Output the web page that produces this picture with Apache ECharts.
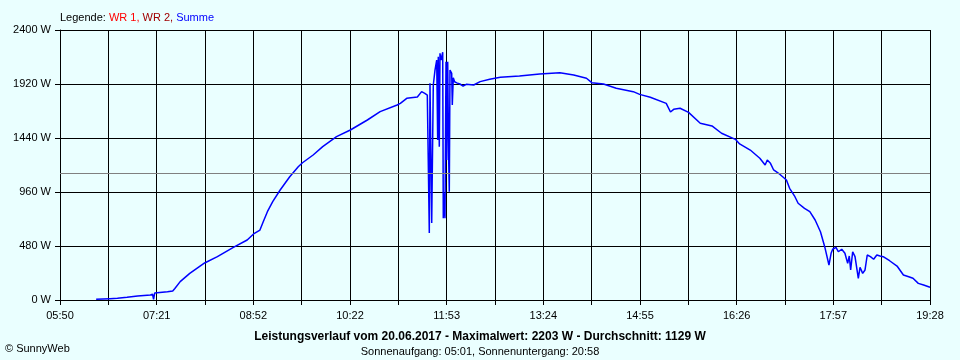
<!DOCTYPE html>
<html>
<head>
<meta charset="utf-8">
<script src="https://cdn.jsdelivr.net/npm/echarts@6/dist/echarts.min.js"></script>
<style>
html,body{margin:0;padding:0;background:#EAFFFF;}
#c{width:960px;height:360px;}
</style>
</head>
<body>
<div id="c"></div>
<script>
// Time labels on the x axis (every second grid line)
const tickLabels = ['05:50','07:21','08:52','10:22','11:53','13:24','14:55','16:26','17:57','19:28'];
const yTicks = [0, 480, 960, 1440, 1920, 2400];
const average = 1129;

// Summe (W) over time of day
const times = [
 '06:24','06:37','06:44','06:53','07:03','07:15','07:17','07:18','07:19','07:31','07:36','07:38','07:43','07:52',
 '08:06','08:18','08:33','08:46','08:52','08:58','09:01','09:05','09:10','09:17','09:26','09:34','09:38','09:48',
 '09:57','10:10','10:23','10:39','10:51','11:07','11:10','11:16','11:26','11:30','11:33',
 '11:35:21','11:37:14','11:37:53','11:39:29','11:40:59','11:42:35','11:44:11','11:45:07','11:45:41','11:46:38',
 '11:47:17','11:48:14','11:49:50','11:50:23','11:51:20','11:51:59','11:52:56','11:53:35','11:54:32','11:55:28',
 '11:56:02','11:56:41','11:58:17','11:58:51','11:59:47','12:01','12:03','12:06','12:09','12:12','12:19','12:25',
 '12:34','12:44','13:02','13:21','13:40','13:53','14:05','14:10','14:21','14:33','14:49','14:55','15:05','15:20',
 '15:24','15:27','15:33','15:41','15:52','16:03','16:12','16:25','16:29','16:39','16:48','16:53','16:55','16:58',
 '17:01','17:07','17:13','17:16','17:21','17:24','17:30','17:35','17:40','17:45','17:49','17:53','17:55','17:56:30',
 '17:59:36','18:01:48','18:05','18:08','18:10:36','18:12:06','18:13:24','18:15:18','18:17:30','18:20:36','18:22:12',
 '18:24:42','18:26:54','18:29','18:32','18:35','18:38','18:41','18:44','18:50','18:57','19:03','19:08','19:12',
 '19:17','19:22','19:28'
];
const summe = [
 6,12,15,24,36,44,51,6,62,74,80,102,163,237,
 329,385,468,533,587,622,693,785,874,978,1096,1185,1220,1289,
 1363,1452,1511,1600,1674,1733,1748,1793,1804,1852,1837,
 1822,596,1926,684,1911,2044,2133,1422,2163,1363,
 2193,2133,2203,726,948,726,2118,1244,2118,1244,
 963,2044,2015,1733,1975,1940,1930,1920,1902,1917,1911,1941,
 1962,1980,1991,2009,2020,2000,1971,1932,1920,1882,1852,1828,1802,1748,
 1671,1695,1704,1668,1571,1547,1482,1428,1387,1333,1260,1200,1244,1215,
 1156,1116,1067,993,918,860,815,785,711,607,474,311,415,451,
 468,429,451,415,326,391,267,429,385,193,291,
 237,267,400,385,362,400,391,385,349,302,222,207,193,
 148,133,113
];

function toMin(s){const p=s.split(':').map(Number);return p[0]*60+p[1]+(p[2]||0)/60;}
const startMin = toMin(tickLabels[0]);
const endMin = toMin(tickLabels[tickLabels.length-1]);
const steps = (tickLabels.length-1)*2;
const stepLen = (endMin-startMin)/steps;
const data = times.map((t,i)=>[(toMin(t)-startMin)/stepLen, summe[i]]);

const font = '"Liberation Sans", Arial, sans-serif';
const chart = echarts.init(document.getElementById('c'));
chart.setOption({
  backgroundColor:'#EAFFFF',
  animation:false,
  title:[
    {text:'{a|Legende: }{r|WR 1, }{d|WR 2, }{b|Summe}', left:60, top:12, padding:0,
     textStyle:{fontFamily:font, fontSize:11, fontWeight:'normal',
       rich:{a:{color:'#000000',fontFamily:font,fontSize:11},r:{color:'#FF0000',fontFamily:font,fontSize:11},
             d:{color:'#A00000',fontFamily:font,fontSize:11},b:{color:'#0000FF',fontFamily:font,fontSize:11}}}},
    {text:'Leistungsverlauf vom 20.06.2017 - Maximalwert: 2203 W - Durchschnitt: 1129 W', left:'center', top:331, padding:0,
     textStyle:{fontFamily:font, fontSize:12, fontWeight:'bold', color:'#000'}},
    {text:'Sonnenaufgang: 05:01, Sonnenuntergang: 20:58', left:'center', top:346, padding:0,
     textStyle:{fontFamily:font, fontSize:11, fontWeight:'normal', color:'#000'}},
    {text:'© SunnyWeb', left:5, top:343, padding:0,
     textStyle:{fontFamily:font, fontSize:11, fontWeight:'normal', color:'#000'}}
  ],
  grid:{left:60, right:30, top:30, bottom:60, containLabel:false},
  xAxis:{type:'value', min:0, max:steps, interval:1,
    axisLine:{show:true, lineStyle:{color:'#000', width:1}},
    axisTick:{show:true, length:5, lineStyle:{color:'#000'}},
    splitLine:{show:true, lineStyle:{color:'#000', width:1}},
    axisLabel:{color:'#000', fontFamily:font, fontSize:11, margin:10, showMinLabel:true, showMaxLabel:true,
      formatter:v=>{const i=Math.round(v); return i%2===0 ? tickLabels[i/2] : '';}}},
  yAxis:{type:'value', min:yTicks[0], max:yTicks[yTicks.length-1], interval:yTicks[1]-yTicks[0],
    axisLine:{show:true, lineStyle:{color:'#000', width:1}},
    axisTick:{show:true, length:5, lineStyle:{color:'#000'}},
    splitLine:{show:true, lineStyle:{color:'#000', width:1}},
    axisLabel:{color:'#000', fontFamily:font, fontSize:11, margin:9, formatter:v=>v+' W'}},
  series:[{
    type:'line', data:data, showSymbol:false, symbol:'none',
    lineStyle:{color:'#0000FF', width:1.5}, itemStyle:{color:'#0000FF'},
    markLine:{silent:true, symbol:'none', label:{show:false},
      lineStyle:{color:'#808080', type:'solid', width:1}, data:[{yAxis:average}]}
  }]
});
</script>
</body>
</html>
